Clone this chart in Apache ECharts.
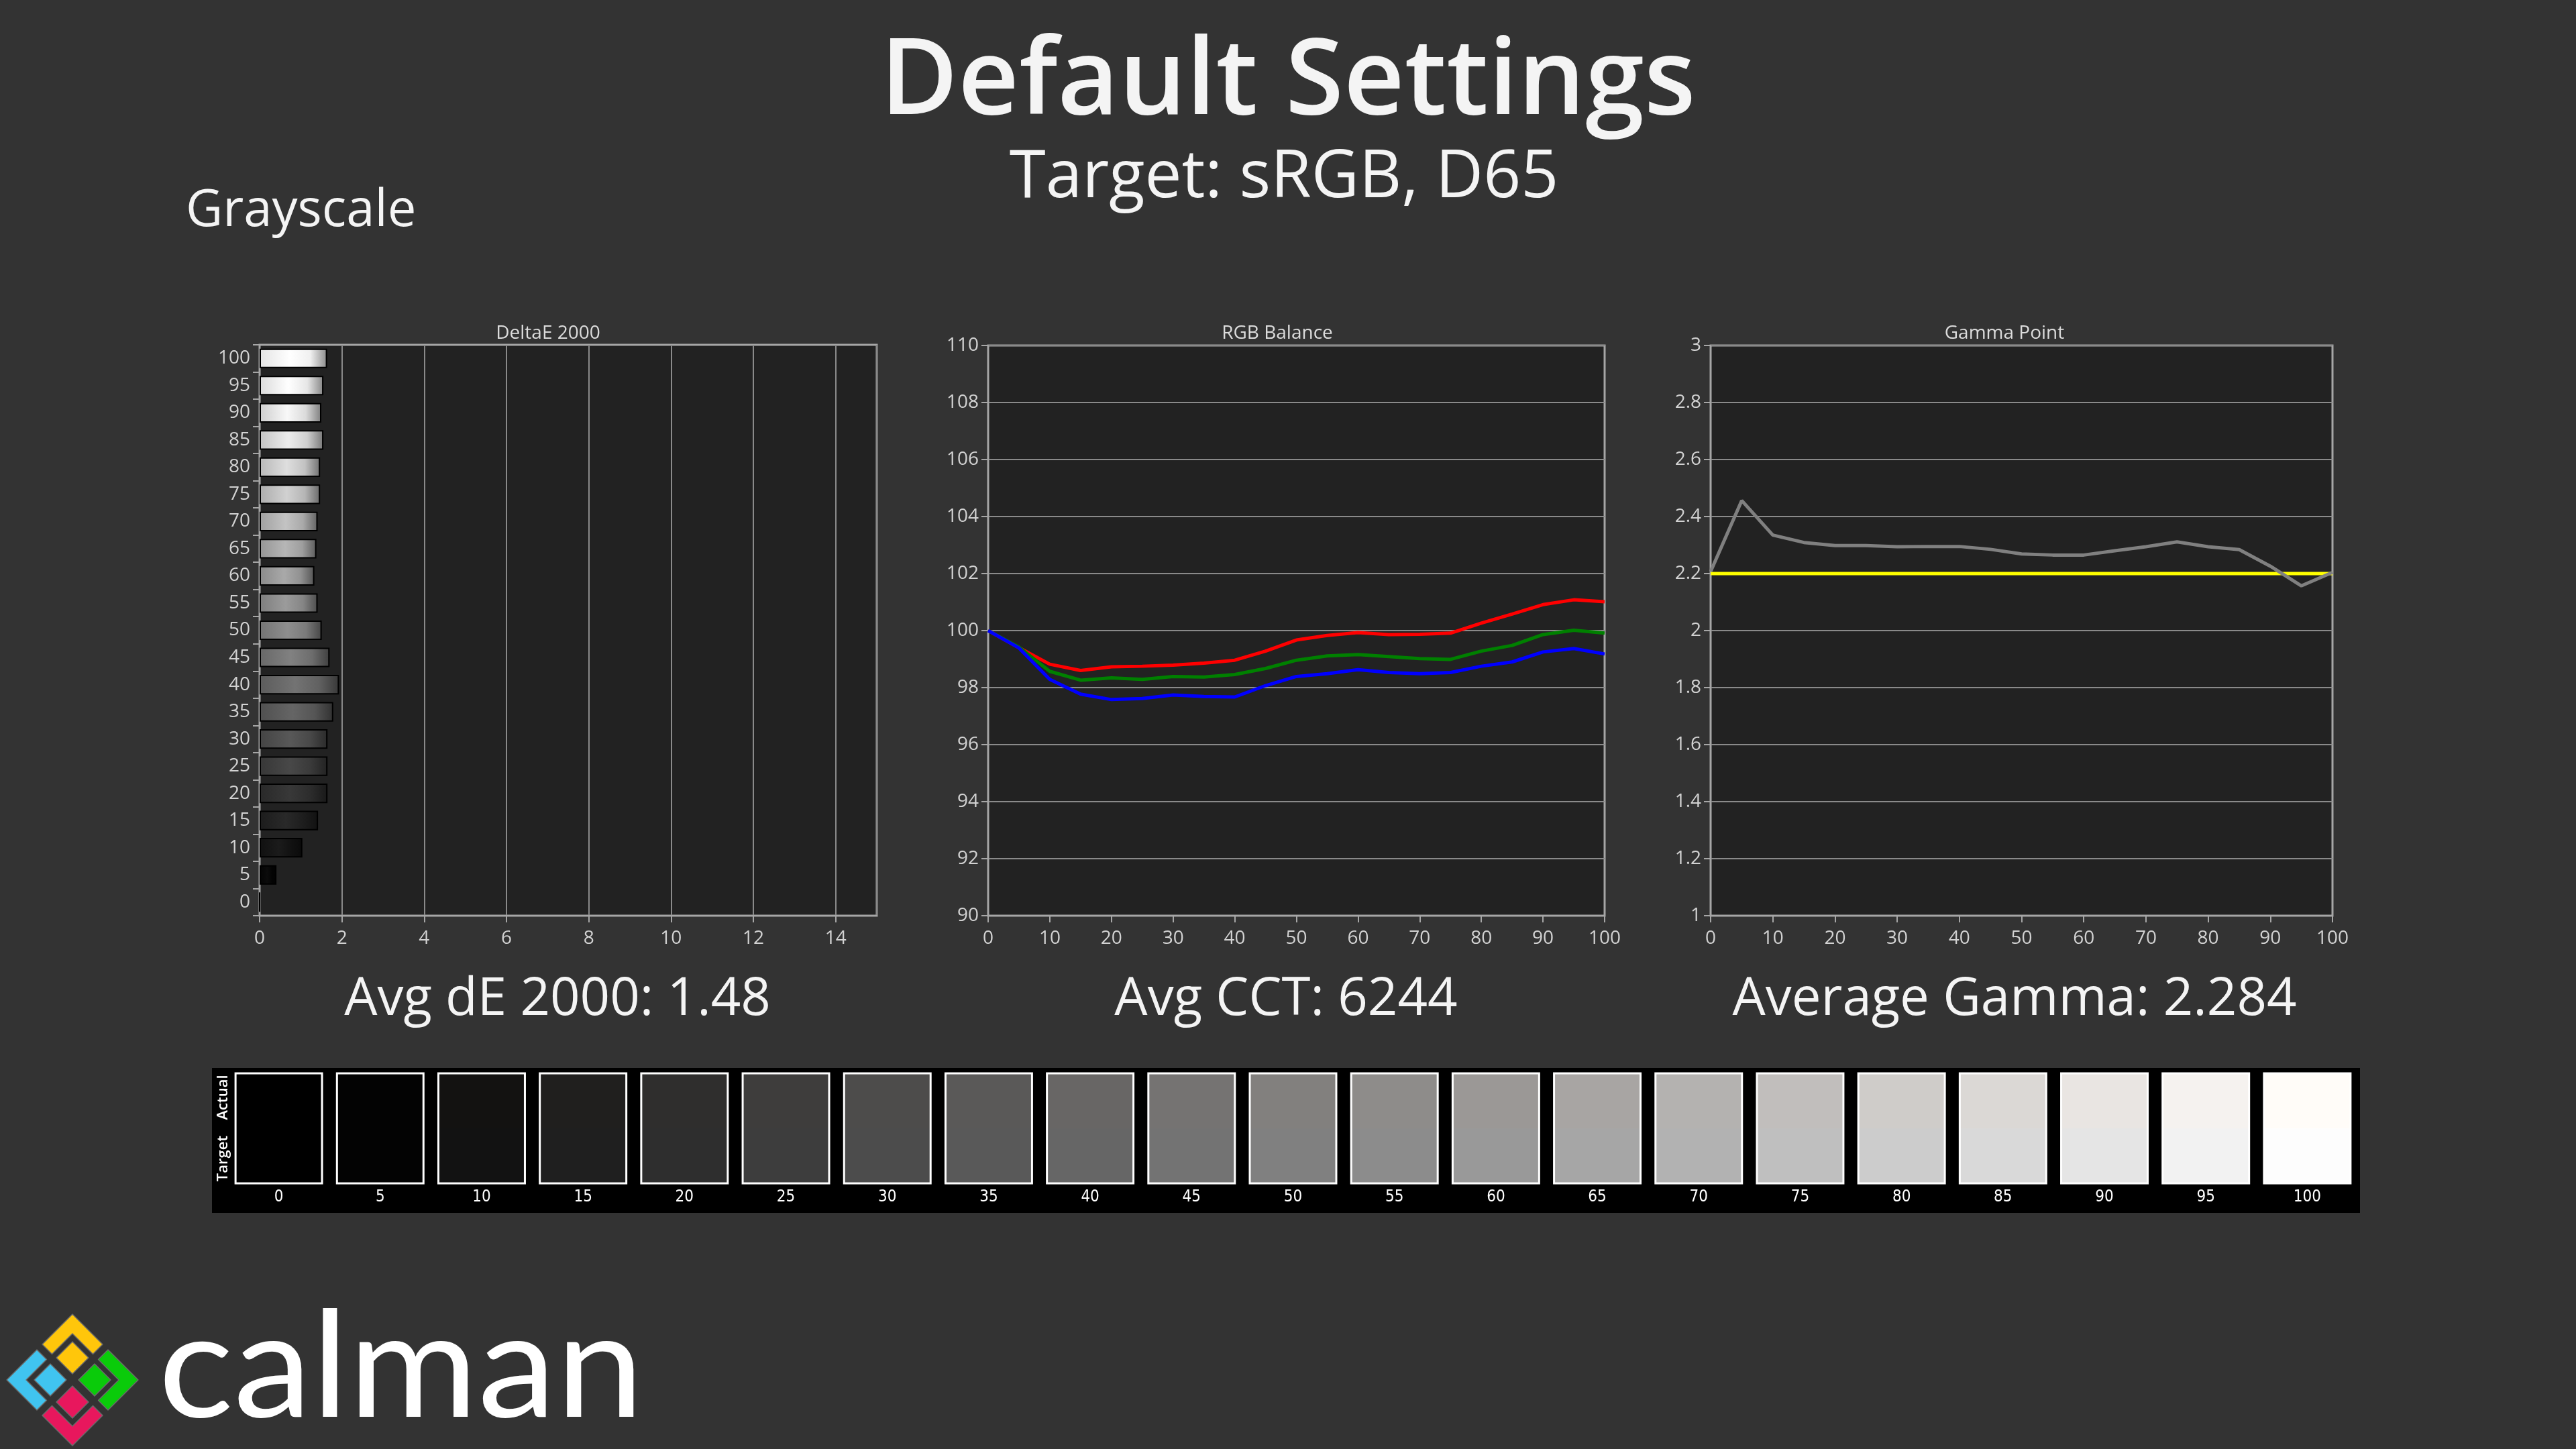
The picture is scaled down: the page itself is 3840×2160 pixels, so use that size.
<!DOCTYPE html>
<html>
<head>
<meta charset="utf-8">
<title>Default Settings - Grayscale</title>
<script src="https://cdn.jsdelivr.net/npm/echarts@6/dist/echarts.min.js"></script>
<style>
  html, body { margin: 0; padding: 0; background: #333333; }
  #chart { width: 3840px; height: 2160px; }
</style>
</head>
<body>
<div id="chart"></div>
<script>
// grayscale steps (%)
const levels = [0, 5, 10, 15, 20, 25, 30, 35, 40, 45, 50, 55, 60, 65, 70, 75, 80, 85, 90, 95, 100];

// dE 2000 per step
const deltaE = [0, 0.41, 1.04, 1.42, 1.65, 1.65, 1.65, 1.79, 1.93, 1.70, 1.51,
                1.41, 1.33, 1.38, 1.41, 1.47, 1.47, 1.55, 1.50, 1.55, 1.64];

// RGB balance (%)
const red   = [100, 99.40, 98.82, 98.60, 98.73, 98.75, 98.79, 98.86, 98.96, 99.28, 99.67,
               99.83, 99.93, 99.86, 99.87, 99.91, 100.26, 100.58, 100.91, 101.08, 101.01];
const green = [100, 99.42, 98.57, 98.26, 98.34, 98.29, 98.39, 98.37, 98.46, 98.67, 98.96,
               99.11, 99.16, 99.09, 99.02, 98.99, 99.28, 99.48, 99.86, 100.01, 99.91];
const blue  = [100, 99.39, 98.29, 97.77, 97.58, 97.62, 97.74, 97.69, 97.67, 98.07, 98.39,
               98.49, 98.63, 98.53, 98.49, 98.53, 98.75, 98.90, 99.25, 99.37, 99.18];

// gamma point
const gamma = [2.207, 2.456, 2.335, 2.309, 2.298, 2.298, 2.294, 2.295, 2.295, 2.285, 2.269,
               2.265, 2.265, 2.280, 2.294, 2.311, 2.294, 2.284, 2.226, 2.157, 2.204];
const gammaTarget = [2.2, 2.2, 2.2, 2.2, 2.2, 2.2, 2.2, 2.2, 2.2, 2.2, 2.2,
                     2.2, 2.2, 2.2, 2.2, 2.2, 2.2, 2.2, 2.2, 2.2, 2.2];

// swatch colours: target grey (0-255) and measured colour
const targetGray = [0, 3, 18, 31, 46, 61, 76, 89, 102, 115, 128,
                    140, 153, 166, 178, 191, 204, 217, 229, 242, 253];
const actualColor = ['#000000', '#030303', '#131211', '#201f1e', '#2f2e2d', '#3e3d3c', '#4d4c4b',
                     '#5a5958', '#686665', '#757372', '#82807e', '#8e8c8a', '#9b9896', '#a8a5a3',
                     '#b4b2b0', '#c1bebc', '#cfccc9', '#dbd8d5', '#e9e5e2', '#f5f2ef', '#fffcf8'];

const avgDE = '1.48';
const avgCCT = '6244';
const avgGamma = '2.284';

const FONT = '"Open Sans", "Noto Sans", sans-serif';
const labelColor = '#d2d2d2';
const axisColor = '#a6a6a6';
const gridLineColor = '#8a8a8a';

function gray(v) {
    v = Math.max(0, Math.min(255, Math.round(v)));
    return 'rgb(' + v + ',' + v + ',' + v + ')';
}

function axisLabel() {
    return { color: labelColor, fontFamily: FONT, fontSize: 28, margin: 14 };
}
function axisLine() {
    return { show: true, lineStyle: { color: axisColor, width: 2 } };
}
function axisTick() {
    return { show: true, length: 10, lineStyle: { color: axisColor, width: 2 } };
}
function splitLine(show) {
    return { show: show, lineStyle: { color: gridLineColor, width: 2 } };
}

const gridStyle = { show: true, backgroundColor: '#222222', borderColor: axisColor, borderWidth: 3 };

const chart = echarts.init(document.getElementById('chart'));

const barData = deltaE.map((v, i) => {
    const g = targetGray[i] === 0 ? 8 : targetGray[i];
    return {
        value: v,
        itemStyle: {
            color: new echarts.graphic.LinearGradient(0, 0, 1, 0, [
                { offset: 0, color: gray(g * 0.9) },
                { offset: 0.45, color: gray(g * 1.05 + 8) },
                { offset: 0.75, color: gray(g * 0.95) },
                { offset: 1, color: gray(g * 0.55) }
            ])
        }
    };
});

const pairs = (ys) => levels.map((x, i) => [x, ys[i]]);

function shapeText(text, x, y, size, weight, align, color) {
    return {
        type: 'text', x: x, y: y, z: 10,
        style: {
            text: text, fill: color || '#f4f4f4',
            font: (weight || 400) + ' ' + size + 'px ' + FONT,
            align: align || 'center', verticalAlign: 'middle',
            textAlign: align || 'center', textVerticalAlign: 'middle'
        }
    };
}

// calman logo geometry (centre 108, 2057)
const LX = 108, LY = 2057, R = 98, r = 69, gap = 4;
function chevron(dir) {
    // dir: 0 top, 1 right, 2 bottom, 3 left
    const h = R / 2 - gap, hi = r / 2 - gap;
    let pts = [[0, -R], [h, -(R - h)], [hi, -(r - hi)], [0, -r], [-hi, -(r - hi)], [-h, -(R - h)]];
    const a = dir * Math.PI / 2;
    return pts.map(p => [LX + p[0] * Math.cos(a) - p[1] * Math.sin(a),
                         LY + p[0] * Math.sin(a) + p[1] * Math.cos(a)]);
}
function diamond(cx, cy, s) {
    return [[cx, cy - s], [cx + s, cy], [cx, cy + s], [cx - s, cy]];
}
const logoColors = ['#ffc60b', '#0acb0a', '#e8175d', '#40c4f0'];
const logoShapes = [];
logoColors.forEach((c, d) => {
    logoShapes.push({ type: 'polygon', shape: { points: chevron(d) },
        style: { fill: c, stroke: '#6a6a6a', lineWidth: 1.5, lineJoin: 'round' } });
});
[[0, -33, 0], [33, 0, 1], [0, 33, 2], [-33, 0, 3]].forEach(d => {
    logoShapes.push({ type: 'polygon', shape: { points: diamond(LX + d[0], LY + d[1], 24) },
        style: { fill: logoColors[d[2]], stroke: '#6a6a6a', lineWidth: 1.5, lineJoin: 'round' } });
});

const option = {
    backgroundColor: '#333333',
    animation: false,
    graphic: [
        shapeText('Default Settings', 1920, 125, 158, 600),
        shapeText('Target: sRGB, D65', 1914, 266, 98, 400),
        shapeText('Grayscale', 277, 315, 76, 400, 'left'),
        shapeText('DeltaE 2000', 817, 497, 28, 400, 'center', '#dcdcdc'),
        shapeText('RGB Balance', 1904, 497, 28, 400, 'center', '#dcdcdc'),
        shapeText('Gamma Point', 2988, 497, 28, 400, 'center', '#dcdcdc'),
        shapeText('Avg dE 2000: ' + avgDE, 831, 1491, 78, 400),
        shapeText('Avg CCT: ' + avgCCT, 1917, 1491, 78, 400),
        shapeText('Average Gamma: ' + avgGamma, 3003, 1491, 78, 400),
        { type: 'rect', z: -1, shape: { x: 316, y: 1592, width: 3202, height: 216 }, style: { fill: '#000000' } },
        { type: 'text', x: 333, y: 1636, rotation: Math.PI / 2, z: 10,
          style: { text: 'Actual', fill: '#ffffff', font: '600 22px ' + FONT,
                   align: 'center', verticalAlign: 'middle', textAlign: 'center', textVerticalAlign: 'middle' } },
        { type: 'text', x: 333, y: 1727, rotation: Math.PI / 2, z: 10,
          style: { text: 'Target', fill: '#ffffff', font: '600 22px ' + FONT,
                   align: 'center', verticalAlign: 'middle', textAlign: 'center', textVerticalAlign: 'middle' } },
        { type: 'group', z: 10, children: logoShapes },
        { type: 'text', x: 236, y: 2041, scaleX: 1.065, z: 10,
          style: { text: 'calman', fill: '#ffffff', font: '400 220px Lato, "Open Sans", sans-serif',
                   align: 'left', verticalAlign: 'middle', textAlign: 'left', textVerticalAlign: 'middle' } }
    ],
    grid: [
        Object.assign({ left: 387, top: 514, width: 920, height: 851 }, gridStyle),
        Object.assign({ left: 1473, top: 515, width: 919, height: 850 }, gridStyle),
        Object.assign({ left: 2550, top: 515, width: 927, height: 850 }, gridStyle),
        { left: 340, top: 1600, width: 3175, height: 164, show: false }
    ],
    xAxis: [
        { gridIndex: 0, type: 'value', min: 0, max: 15, interval: 2,
          axisLabel: Object.assign(axisLabel(), { showMaxLabel: false, margin: 20 }),
          axisLine: axisLine(), axisTick: axisTick(), splitLine: splitLine(true) },
        { gridIndex: 1, type: 'value', min: 0, max: 100, interval: 10,
          axisLabel: Object.assign(axisLabel(), { margin: 20 }),
          axisLine: axisLine(), axisTick: axisTick(), splitLine: splitLine(false) },
        { gridIndex: 2, type: 'value', min: 0, max: 100, interval: 10,
          axisLabel: Object.assign(axisLabel(), { margin: 20 }),
          axisLine: axisLine(), axisTick: axisTick(), splitLine: splitLine(false) },
        { gridIndex: 3, type: 'category', data: levels.map(String),
          axisLine: { show: false }, axisTick: { show: false },
          axisLabel: { color: '#ffffff', fontFamily: '"Liberation Sans Narrow", "DejaVu Sans Condensed", sans-serif',
                       fontSize: 24, margin: 9 } }
    ],
    yAxis: [
        { gridIndex: 0, type: 'category', data: levels.map(String),
          axisLabel: axisLabel(), axisLine: axisLine(), axisTick: axisTick(), splitLine: { show: false } },
        { gridIndex: 1, type: 'value', min: 90, max: 110, interval: 2,
          axisLabel: axisLabel(), axisLine: axisLine(), axisTick: axisTick(), splitLine: splitLine(true) },
        { gridIndex: 2, type: 'value', min: 1, max: 3, interval: 0.2,
          axisLabel: axisLabel(), axisLine: axisLine(), axisTick: axisTick(), splitLine: splitLine(true) },
        { gridIndex: 3, type: 'value', min: 0, max: 2, show: false }
    ],
    series: [
        { type: 'bar', xAxisIndex: 0, yAxisIndex: 0, data: barData, barWidth: '72%',
          itemStyle: { borderColor: '#000000', borderWidth: 2 } },
        { type: 'line', xAxisIndex: 1, yAxisIndex: 1, data: pairs(red), showSymbol: false,
          lineStyle: { color: '#ff0000', width: 5 } },
        { type: 'line', xAxisIndex: 1, yAxisIndex: 1, data: pairs(green), showSymbol: false,
          lineStyle: { color: '#008000', width: 5 } },
        { type: 'line', xAxisIndex: 1, yAxisIndex: 1, data: pairs(blue), showSymbol: false,
          lineStyle: { color: '#0000ff', width: 5 } },
        { type: 'line', xAxisIndex: 2, yAxisIndex: 2, data: pairs(gammaTarget), showSymbol: false,
          lineStyle: { color: '#ffff00', width: 5 } },
        { type: 'line', xAxisIndex: 2, yAxisIndex: 2, data: pairs(gamma), showSymbol: false,
          lineStyle: { color: '#808080', width: 5 } },
        { type: 'custom', xAxisIndex: 3, yAxisIndex: 3,
          data: levels.map((l, i) => [i, 2]),
          encode: { x: 0, y: 1 },
          renderItem: function (params, api) {
              const i = params.dataIndex;
              const top = api.coord([api.value(0), 2]);
              const mid = api.coord([api.value(0), 1]);
              const bot = api.coord([api.value(0), 0]);
              const w = api.size([1, 0])[0] * 0.853;
              const x = top[0] - w / 2;
              return {
                  type: 'group',
                  children: [
                      { type: 'rect', shape: { x: x, y: top[1], width: w, height: mid[1] - top[1] },
                        style: { fill: actualColor[i] } },
                      { type: 'rect', shape: { x: x, y: mid[1], width: w, height: bot[1] - mid[1] },
                        style: { fill: gray(targetGray[i]) } },
                      { type: 'rect', shape: { x: x, y: top[1], width: w, height: bot[1] - top[1] },
                        style: { fill: 'none', stroke: '#ffffff', lineWidth: 3 } }
                  ]
              };
          } }
    ]
};

chart.setOption(option);
</script>
</body>
</html>
